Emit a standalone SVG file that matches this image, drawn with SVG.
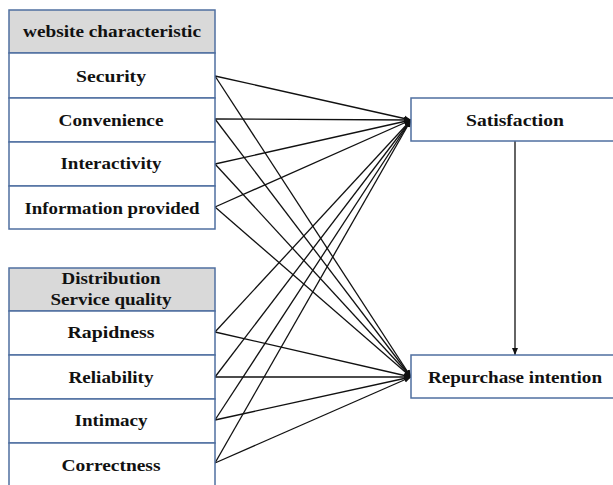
<svg xmlns="http://www.w3.org/2000/svg" width="613" height="485" viewBox="0 0 613 485">
<style>
.box{fill:#fff;stroke:#4f6fa0;stroke-width:1.5}
.hdr{fill:#d9d9d9;stroke:#4f6fa0;stroke-width:1.5}
.t{font-family:"Liberation Serif",serif;font-weight:bold;font-size:16px;fill:#111;text-anchor:middle}
.c{stroke:#111;stroke-width:1.3;fill:none;marker-end:url(#ah)}
</style>
<defs>
<marker id="ah" markerWidth="8" markerHeight="8" refX="7" refY="4" orient="auto" markerUnits="userSpaceOnUse">
<path d="M0,1 L7,4 L0,7 Z" fill="#111"/>
</marker>
</defs>
<rect width="613" height="485" fill="#fff"/>
<g id="connectors">
<line class="c" x1="215" y1="76" x2="411" y2="120"/>
<line class="c" x1="215" y1="119" x2="411" y2="120"/>
<line class="c" x1="215" y1="164" x2="411" y2="120"/>
<line class="c" x1="215" y1="207" x2="411" y2="120"/>
<line class="c" x1="215" y1="332" x2="411" y2="120"/>
<line class="c" x1="215" y1="377" x2="411" y2="120"/>
<line class="c" x1="215" y1="420" x2="411" y2="120"/>
<line class="c" x1="215" y1="463" x2="411" y2="120"/>
<line class="c" x1="215" y1="76" x2="411" y2="377"/>
<line class="c" x1="215" y1="119" x2="411" y2="377"/>
<line class="c" x1="215" y1="164" x2="411" y2="377"/>
<line class="c" x1="215" y1="207" x2="411" y2="377"/>
<line class="c" x1="215" y1="332" x2="411" y2="377"/>
<line class="c" x1="215" y1="377" x2="411" y2="377"/>
<line class="c" x1="215" y1="420" x2="411" y2="377"/>
<line class="c" x1="215" y1="463" x2="411" y2="377"/>
<line class="c" x1="515" y1="141" x2="515" y2="355"/>
</g>
<g id="website-characteristic">
<rect class="hdr" x="9" y="10" width="206" height="43"/>
<text class="t" x="112" y="37" textLength="178" lengthAdjust="spacingAndGlyphs">website characteristic</text>
</g>
<g id="security">
<rect class="box" x="9" y="53" width="206" height="45"/>
<text class="t" x="111" y="82" textLength="70" lengthAdjust="spacingAndGlyphs">Security</text>
</g>
<g id="convenience">
<rect class="box" x="9" y="98" width="206" height="44"/>
<text class="t" x="111" y="126" textLength="105" lengthAdjust="spacingAndGlyphs">Convenience</text>
</g>
<g id="interactivity">
<rect class="box" x="9" y="142" width="206" height="44"/>
<text class="t" x="111" y="169" textLength="101" lengthAdjust="spacingAndGlyphs">Interactivity</text>
</g>
<g id="information-provided">
<rect class="box" x="9" y="186" width="206" height="43"/>
<text class="t" x="112" y="214" textLength="175" lengthAdjust="spacingAndGlyphs">Information provided</text>
</g>
<g id="distribution-service-quality">
<rect class="hdr" x="9" y="268" width="206" height="43"/>
<text class="t" x="111" y="284" textLength="99" lengthAdjust="spacingAndGlyphs">Distribution</text>
<text class="t" x="111" y="305" textLength="121" lengthAdjust="spacingAndGlyphs">Service quality</text>
</g>
<g id="rapidness">
<rect class="box" x="9" y="311" width="206" height="44"/>
<text class="t" x="111" y="338" textLength="87" lengthAdjust="spacingAndGlyphs">Rapidness</text>
</g>
<g id="reliability">
<rect class="box" x="9" y="355" width="206" height="44"/>
<text class="t" x="111" y="383" textLength="85" lengthAdjust="spacingAndGlyphs">Reliability</text>
</g>
<g id="intimacy">
<rect class="box" x="9" y="399" width="206" height="44"/>
<text class="t" x="111" y="426" textLength="73" lengthAdjust="spacingAndGlyphs">Intimacy</text>
</g>
<g id="correctness">
<rect class="box" x="9" y="443" width="206" height="50"/>
<text class="t" x="111" y="471" textLength="99" lengthAdjust="spacingAndGlyphs">Correctness</text>
</g>
<g id="satisfaction">
<rect class="box" x="411" y="98" width="208" height="43"/>
<text class="t" x="515" y="126" textLength="98" lengthAdjust="spacingAndGlyphs">Satisfaction</text>
</g>
<g id="repurchase-intention">
<rect class="box" x="411" y="355" width="208" height="43"/>
<text class="t" x="515" y="383" textLength="174" lengthAdjust="spacingAndGlyphs">Repurchase intention</text>
</g>
</svg>
